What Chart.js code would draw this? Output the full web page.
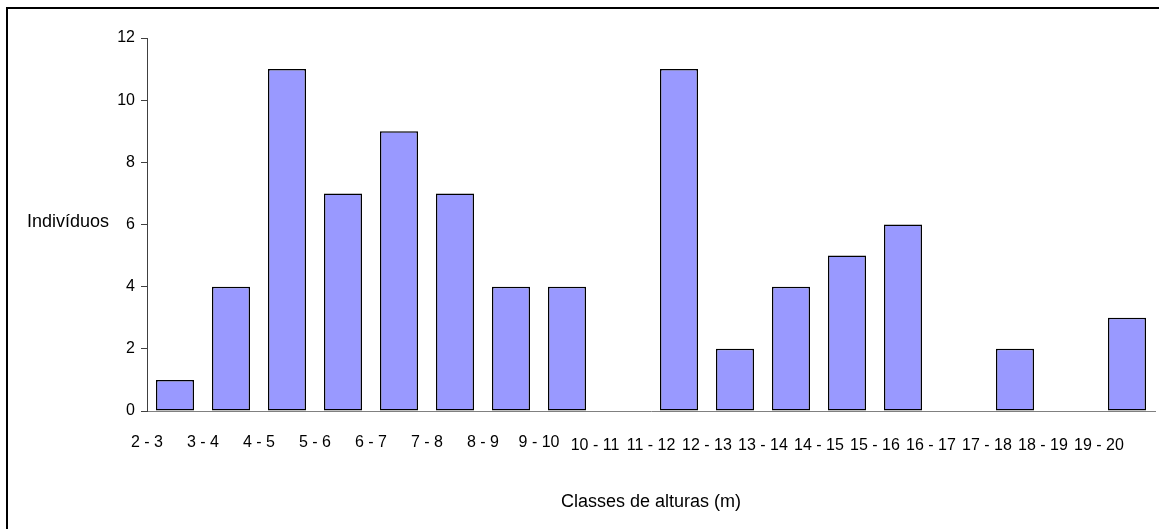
<!DOCTYPE html>
<html>
<head>
<meta charset="utf-8">
<script src="https://cdn.jsdelivr.net/npm/chart.js@4/dist/chart.umd.min.js"></script>
<style>
    body { margin: 0; background: #fff; overflow: hidden; }
    #frame { position: absolute; left: 6px; top: 7px; width: 2000px; height: 2000px;
             border-top: 2px solid #000; border-left: 2px solid #000; }
    #chart { position: absolute; left: 0; top: 0; }
</style>
</head>
<body>
<div id="frame"></div>
<canvas id="chart" width="1159" height="529"></canvas>
<script>
// classes de alturas e número de indivíduos
const classes = ["2 - 3", "3 - 4", "4 - 5", "5 - 6", "6 - 7", "7 - 8", "8 - 9", "9 - 10",
    "10 - 11", "11 - 12", "12 - 13", "13 - 14", "14 - 15", "15 - 16", "16 - 17",
    "17 - 18", "18 - 19", "19 - 20"];
const individuos = [1, 4, 11, 7, 9, 7, 4, 4, 0, 11, 2, 4, 5, 6, 0, 2, 0, 3];
const yTicks = [0, 2, 4, 6, 8, 10, 12];

const yTitle = "Indivíduos";
const xTitle = "Classes de alturas (m)";
const fontFamily = "'Liberation Sans', Arial, sans-serif";

// y title is horizontal in the original, so draw it by hand
const yTitlePlugin = {
    id: "yTitle",
    afterDraw(chart) {
        let ctx = chart.ctx;
        let y = chart.scales.y.getPixelForValue(6);
        ctx.save();
        ctx.font = "18px " + fontFamily;
        ctx.fillStyle = "#000";
        ctx.textAlign = "left";
        ctx.textBaseline = "middle";
        ctx.fillText(yTitle, 27, y - 2);
        ctx.restore();
    }
};

new Chart(document.getElementById("chart"), {
    type: "bar",
    data: {
        labels: classes,
        datasets: [{
            data: individuos,
            backgroundColor: "#9999FF",
            borderColor: "#000",
            borderWidth: ctx => ctx.raw === 0 ? 0 : 1.5,
            borderSkipped: false,
            barPercentage: 0.68,
            categoryPercentage: 1
        }]
    },
    options: {
        responsive: false,
        animation: false,
        layout: { padding: { left: 0, top: 38, right: 4, bottom: 0 } },
        plugins: { legend: { display: false }, tooltip: { enabled: false } },
        scales: {
            x: {
                grid: { display: false, drawTicks: false },
                border: { display: true, color: "#808080", width: 1 },
                ticks: {
                    color: "#000",
                    padding: 22,
                    labelOffset: -28,
                    maxRotation: 0,
                    autoSkip: false,
                    // second half of the labels sits a bit lower in the original
                    font: ctx => ({ family: fontFamily, size: 16, lineHeight: ctx.index >= 8 ? "26px" : "19px" })
                },
                title: {
                    display: true,
                    text: xTitle,
                    color: "#000",
                    font: { family: fontFamily, size: 18 },
                    padding: { top: 0, bottom: 16 }
                },
                afterFit: scale => {
                    scale.height = 118;
                    scale.paddingLeft = 0;
                    scale.paddingRight = 0;
                }
            },
            y: {
                min: 0,
                max: 12,
                afterBuildTicks: scale => { scale.ticks = yTicks.map(v => ({ value: v })); },
                grid: { drawOnChartArea: false, drawTicks: true, tickLength: 6, color: "#404040" },
                border: { display: true, color: "#404040", width: 1 },
                ticks: { color: "#000", padding: 6, font: { family: fontFamily, size: 16 } },
                afterFit: scale => {
                    scale.width = 147;
                    scale.paddingTop = 0;
                    scale.paddingBottom = 0;
                }
            }
        }
    },
    plugins: [yTitlePlugin]
});
</script>
</body>
</html>
